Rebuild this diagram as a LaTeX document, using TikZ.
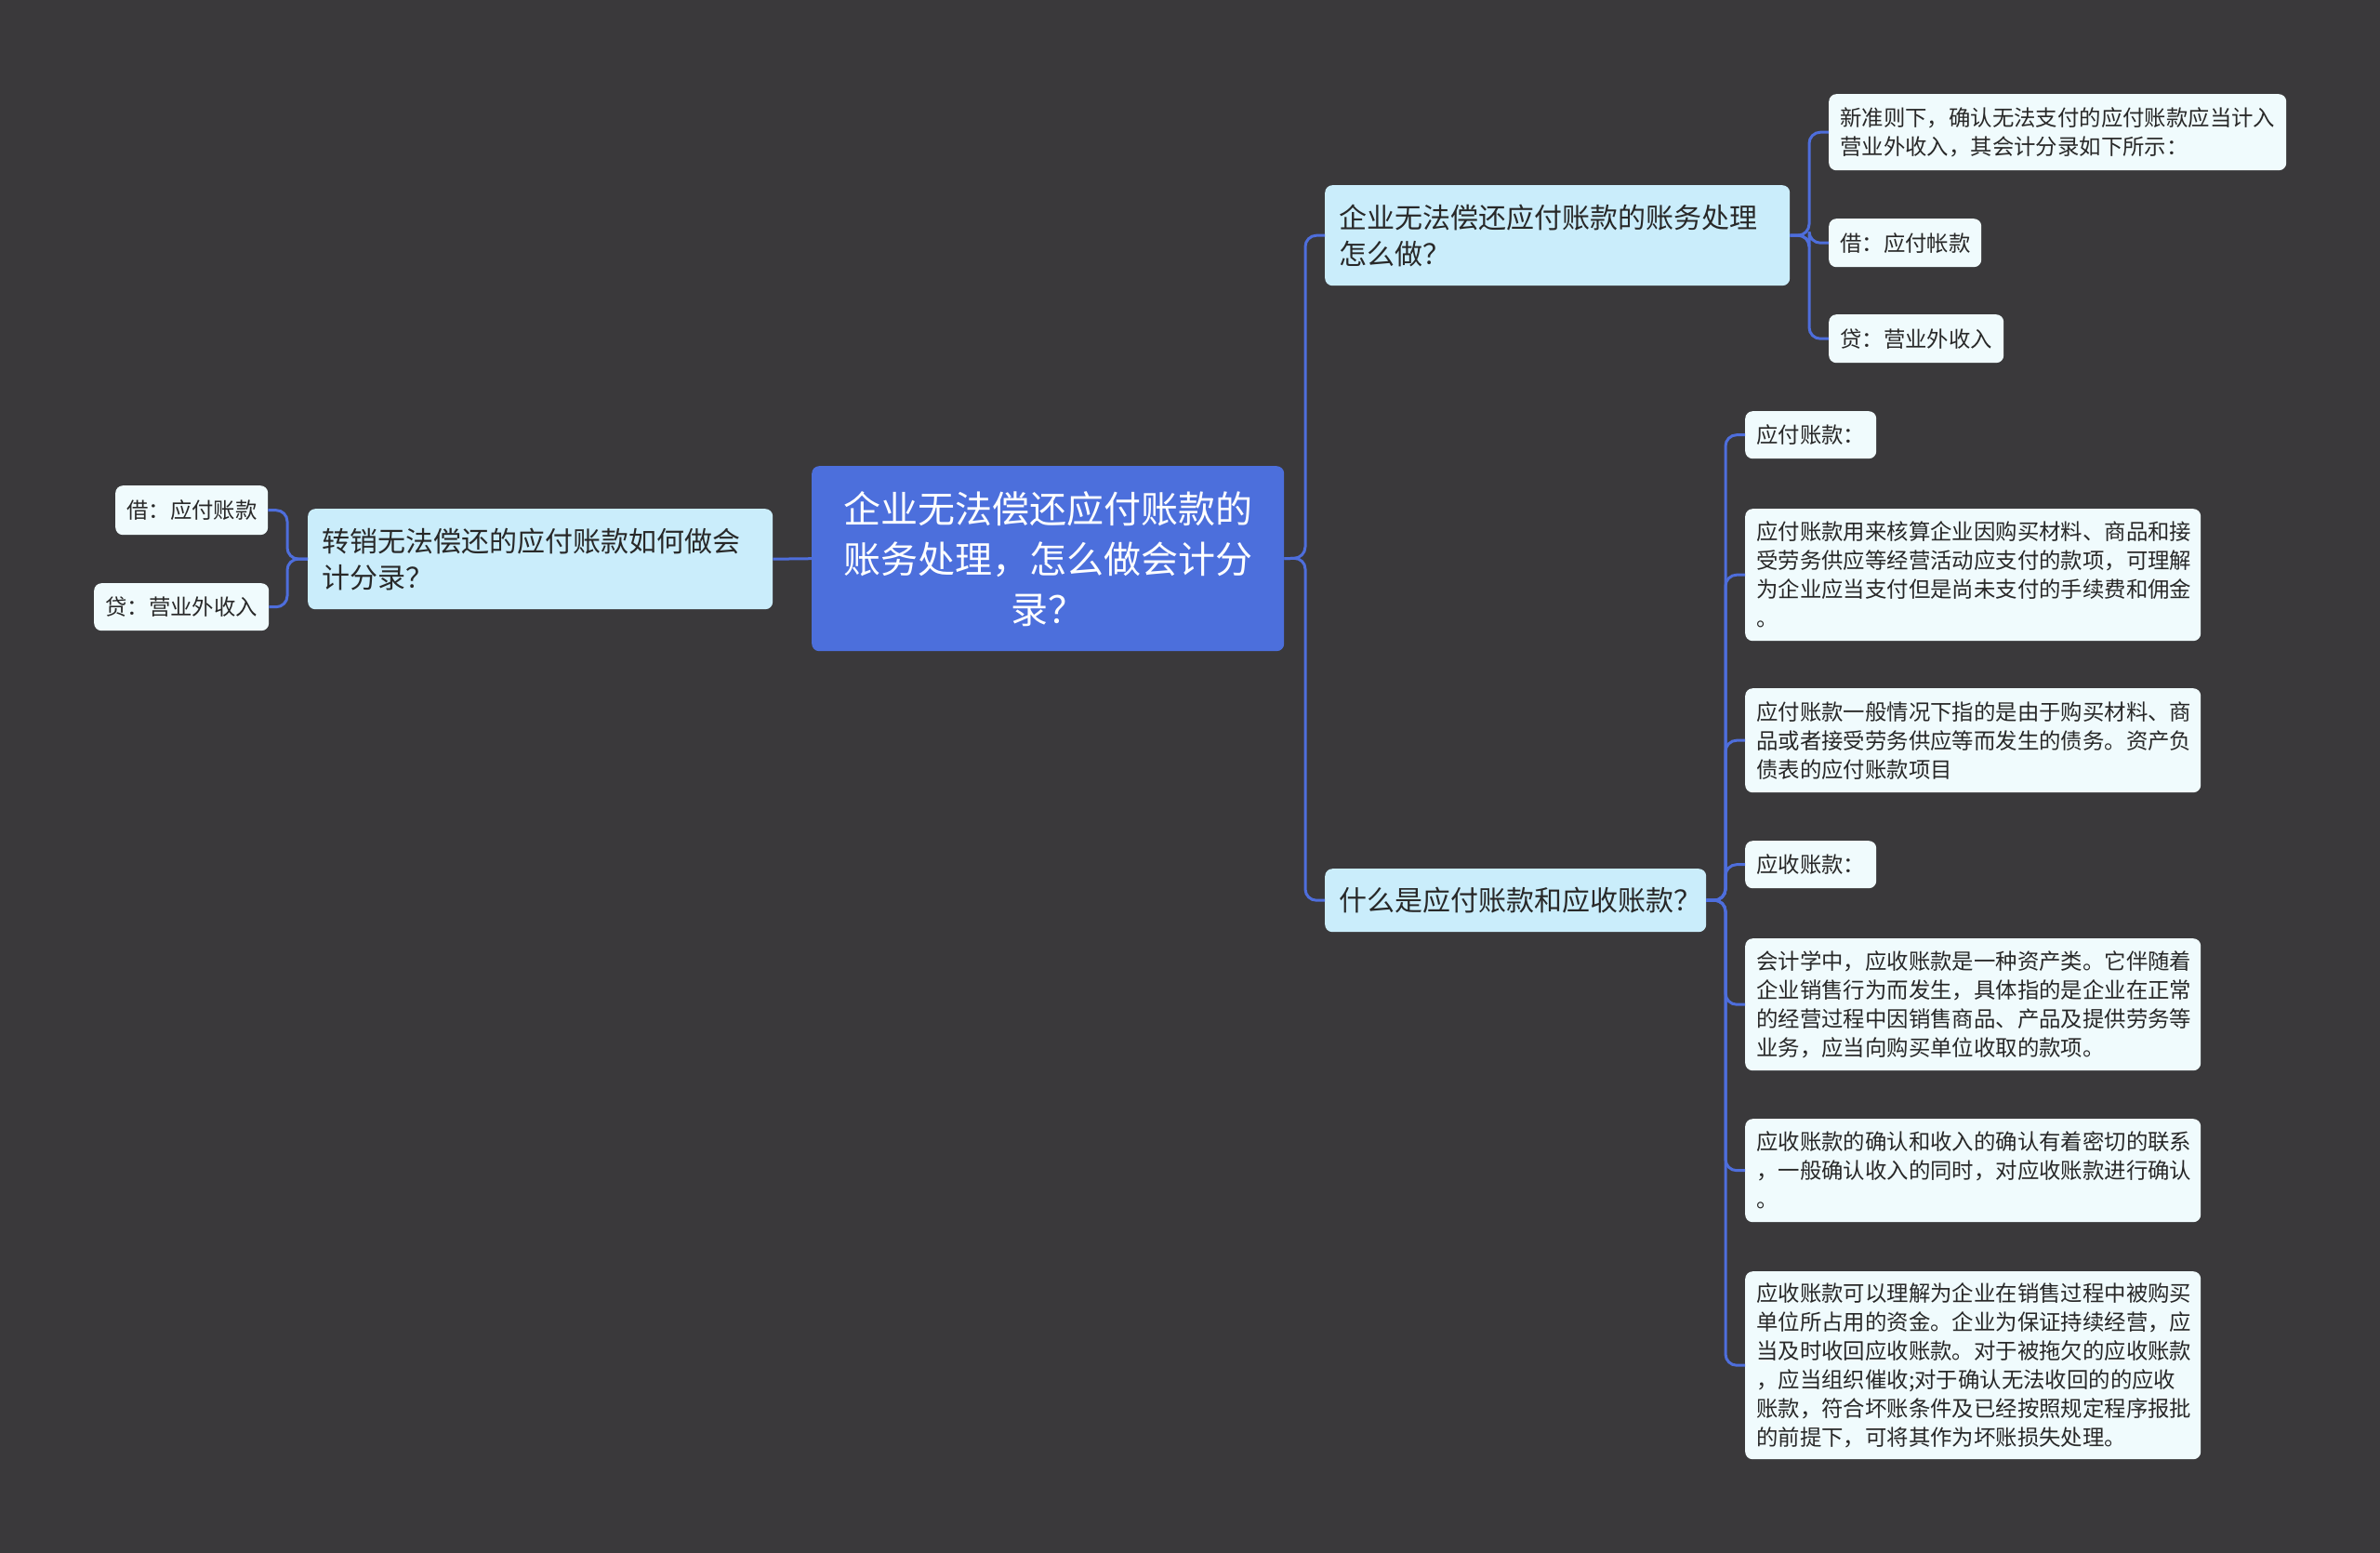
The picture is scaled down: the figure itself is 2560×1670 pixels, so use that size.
\documentclass[tikz,border=0pt]{standalone}
\usepackage{fontspec}
\setmainfont{Noto Sans CJK SC}
\definecolor{bg}{RGB}{58,57,59}
\definecolor{rootfill}{RGB}{76,111,220}
\definecolor{brfill}{RGB}{202,237,251}
\definecolor{leaffill}{RGB}{240,251,253}
\definecolor{conncol}{RGB}{78,110,220}
\definecolor{txt}{RGB}{40,40,40}
\begin{document}
\begin{tikzpicture}[x=1pt,y=-1pt,
  base/.style={anchor=north west, rounded corners=8pt, inner ysep=2pt, align=left, text=txt},
  rootbox/.style={base, fill=rootfill, text=white, align=center, inner xsep=20pt,
    font=\fontsize{40pt}{54pt}\selectfont},
  brbox/.style={base, fill=brfill, inner xsep=15pt, font=\fontsize{30pt}{39pt}\selectfont},
  leafbox/.style={base, fill=leaffill, inner xsep=12pt, font=\fontsize{23.4pt}{31pt}\selectfont},
  conn/.style={draw=conncol, line width=3pt, rounded corners=12pt}]
\fill[bg] (0,0) rectangle (2560,1670);
\useasboundingbox (0,0) rectangle (2560,1670);

% root
\node[rootbox, minimum width=508pt, minimum height=199pt, text width=468pt] (root) at (873,501)
  {企业无法偿还应付账款的\\账务处理，怎么做会计分\\录？};

% branches
\node[brbox, minimum width=498pt, minimum height=108pt, text width=470pt] (b1) at (1425,199)
  {企业无法偿还应付账款的账务处理\\怎么做？};
\node[brbox, minimum width=407pt, minimum height=68pt, text width=380pt] (b2) at (1425,934)
  {什么是应付账款和应收账款？};
\node[brbox, minimum width=498pt, minimum height=108pt, text width=470pt] (lb) at (331,547)
  {转销无法偿还的应付账款如何做会\\计分录？};

% left leaves
\node[leafbox, minimum width=163pt, minimum height=53pt, text width=140pt] (ll1) at (124,522)
  {借：应付账款};
\node[leafbox, minimum width=186pt, minimum height=51pt, text width=164pt] (ll2) at (101,627)
  {贷：营业外收入};

% top right leaves
\node[leafbox, minimum width=492pt, minimum height=82pt, text width=468pt] (t1) at (1967,101)
  {新准则下，确认无法支付的应付账款应当计入\\营业外收入，其会计分录如下所示：};
\node[leafbox, minimum width=164pt, minimum height=52pt, text width=140pt] (t2) at (1967,235)
  {借：应付帐款};
\node[leafbox, minimum width=188pt, minimum height=52pt, text width=164pt] (t3) at (1967,338)
  {贷：营业外收入};

% bottom right leaves
\node[leafbox, minimum width=139pt, minimum height=51pt, text width=117pt] (p0) at (1877,442)
  {应付账款：};
\node[leafbox, minimum width=490pt, minimum height=142pt, text width=466pt] (p1) at (1877,547)
  {应付账款用来核算企业因购买材料、商品和接\\受劳务供应等经营活动应支付的款项，可理解\\为企业应当支付但是尚未支付的手续费和佣金\\。};
\node[leafbox, minimum width=490pt, minimum height=112pt, text width=466pt] (p2) at (1877,740)
  {应付账款一般情况下指的是由于购买材料、商\\品或者接受劳务供应等而发生的债务。资产负\\债表的应付账款项目};
\node[leafbox, minimum width=139pt, minimum height=51pt, text width=117pt] (r0) at (1877,904)
  {应收账款：};
\node[leafbox, minimum width=490pt, minimum height=142pt, text width=466pt] (r1) at (1877,1009)
  {会计学中，应收账款是一种资产类。它伴随着\\企业销售行为而发生，具体指的是企业在正常\\的经营过程中因销售商品、产品及提供劳务等\\业务，应当向购买单位收取的款项。};
\node[leafbox, minimum width=490pt, minimum height=111pt, text width=466pt] (r2) at (1877,1203)
  {应收账款的确认和收入的确认有着密切的联系\\，一般确认收入的同时，对应收账款进行确认\\。};
\node[leafbox, minimum width=490pt, minimum height=202pt, text width=466pt] (r3) at (1877,1367)
  {应收账款可以理解为企业在销售过程中被购买\\单位所占用的资金。企业为保证持续经营，应\\当及时收回应收账款。对于被拖欠的应收账款\\，应当组织催收;对于确认无法收回的的应收\\账款，符合坏账条件及已经按照规定程序报批\\的前提下，可将其作为坏账损失处理。};

% junctions
\coordinate (jr) at (1404,600);
\coordinate (j1) at (1946,253);
\coordinate (j2) at (1856,968);
\coordinate (jl) at (309,601);

% connectors
\draw[conn] (root.east) -- (jr) |- (b1.west);
\draw[conn] (root.east) -- (jr) |- (b2.west);
\draw[conn] (root.west) -- (lb.east);
\draw[conn] (lb.west) -- (jl) |- (ll1.east);
\draw[conn] (lb.west) -- (jl) |- (ll2.east);
\foreach \n in {t1,t2,t3}{\draw[conn] (b1.east) -- (j1) |- (\n.west);}
\foreach \n in {p0,p1,p2,r0,r1,r2,r3}{\draw[conn] (b2.east) -- (j2) |- (\n.west);}
\end{tikzpicture}
\end{document}
